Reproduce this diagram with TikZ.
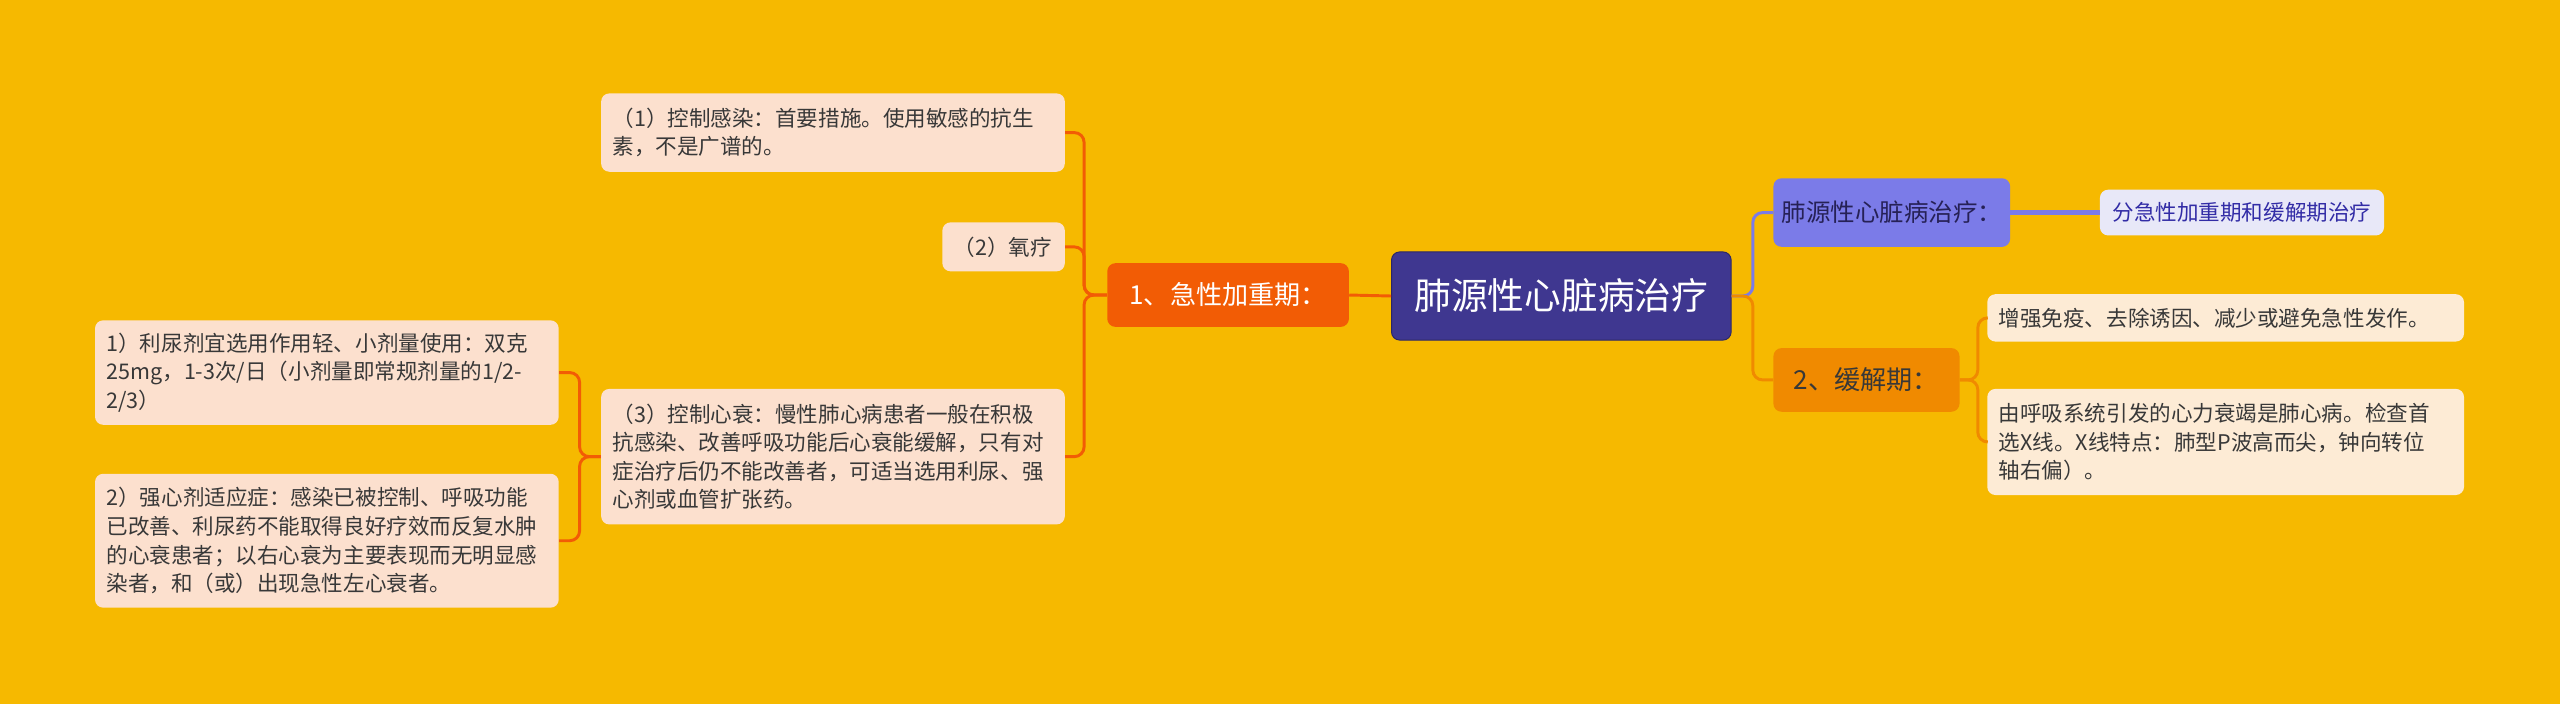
\documentclass[tikz,border=0pt]{standalone}
\usepackage{fontspec}
\usepackage{xcolor}
\newfontfamily\cjk{Noto Sans CJK SC}
\definecolor{bgc}{HTML}{F6B900}
\definecolor{rootc}{HTML}{3F3790}
\definecolor{redc}{HTML}{F25C05}
\definecolor{orgc}{HTML}{F08A00}
\definecolor{purc}{HTML}{7B7BE8}
\definecolor{peachc}{HTML}{FCE0CE}
\definecolor{creamc}{HTML}{FDEBD5}
\definecolor{lavc}{HTML}{E8E8F8}
\definecolor{txtc}{HTML}{383838}

\begin{document}
\begin{tikzpicture}[x=1pt, y=-1pt,
    box/.style={rounded corners=5pt, inner xsep=7pt, inner ysep=0pt, anchor=north west,
      align=left, text=txtc, font=\cjk\fontsize{13.2}{17.5}\selectfont},
    leaf/.style={box, fill=peachc},
    rleaf/.style={box, fill=creamc},
    mid/.style={rounded corners=5pt, anchor=north west, inner sep=0pt,
      font=\cjk\fontsize{16}{20}\selectfont},
    lkred/.style={draw=redc, line width=1.8pt, rounded corners=6pt},
    lkorg/.style={draw=orgc, line width=1.8pt, rounded corners=6pt},
    lkpur/.style={draw=purc, line width=1.8pt, rounded corners=6pt}]
      \fill[bgc] (0,0) rectangle (1568,431);
      \useasboundingbox (0,0) rectangle (1568,431);
      \node[mid, fill=rootc, draw=rootc!70!black, line width=0.6pt, text=white,
        minimum width=208pt, minimum height=54pt, font=\cjk\fontsize{22.5}{26}\selectfont]
        (root) at (852,154) {肺源性心脏病治疗};
      \node[mid, fill=redc, text=white, minimum width=148pt, minimum height=39pt]
        (acute) at (678,161) {1、急性加重期：};
      \node[leaf, text width=270pt, minimum height=48pt] (infect) at (368,57)
        {（1）控制感染：首要措施。使用敏感的抗生\\素，不是广谱的。};
      \node[leaf, text width=61pt, minimum height=30pt] (oxygen) at (577,136)
        {（2）氧疗};
      \node[leaf, text width=270pt, minimum height=83pt] (heart) at (368,238)
        {（3）控制心衰：慢性肺心病患者一般在积极\\抗感染、改善呼吸功能后心衰能缓解，只有对\\症治疗后仍不能改善者，可适当选用利尿、强\\心剂或血管扩张药。};
      \node[leaf, text width=270pt, minimum height=64pt] (diur) at (58,196)
        {1）利尿剂宜选用作用轻、小剂量使用：双克\\25mg，1-3次/日（小剂量即常规剂量的1/2-\\2/3）};
      \node[leaf, text width=270pt, minimum height=82pt] (cardio) at (58,290)
        {2）强心剂适应症：感染已被控制、呼吸功能\\已改善、利尿药不能取得良好疗效而反复水肿\\的心衰患者；以右心衰为主要表现而无明显感\\染者，和（或）出现急性左心衰者。};
      \node[mid, fill=purc, text=rootc!60!black, minimum width=145pt, minimum height=42pt,
        font=\cjk\fontsize{15}{19}\selectfont] (treat) at (1086,109) {肺源性心脏病治疗：};
      \node[box, fill=lavc, text=rootc!80!blue, text width=160pt, minimum height=28pt,
        align=center] (phase) at (1286,116) {分急性加重期和缓解期治疗};
      \node[mid, fill=orgc, text=txtc, minimum width=114pt, minimum height=39pt]
        (remit) at (1086,213) {2、缓解期：};
      \node[rleaf, text width=278pt, minimum height=29pt] (immun) at (1217,180)
        {增强免疫、去除诱因、减少或避免急性发作。};
      \node[rleaf, text width=278pt, minimum height=65pt] (xray) at (1217,238)
        {由呼吸系统引发的心力衰竭是肺心病。检查首\\选X线。X线特点：肺型P波高而尖，钟向转位\\轴右偏）。};
      \draw[lkred] (root.west) -- (acute.east);
      \draw[lkred] (acute.west) -- ++(-14,0) |- (infect.east);
      \draw[lkred] (acute.west) -- ++(-14,0) |- (oxygen.east);
      \draw[lkred] (acute.west) -- ++(-14,0) |- (heart.east);
      \draw[lkred] (heart.west) -- ++(-13,0) |- (diur.east);
      \draw[lkred] (heart.west) -- ++(-13,0) |- (cardio.east);
      \draw[lkpur] (root.east) -- ++(13,0) |- (treat.west);
      \draw[lkorg] (root.east) -- ++(13,0) |- (remit.west);
      \draw[lkpur, line width=2.6pt] (treat.east) -- (phase.west);
      \draw[lkorg] (remit.east) -- ++(11,0) |- (immun.west);
      \draw[lkorg] (remit.east) -- ++(11,0) |- (xray.west);
    \end{tikzpicture}
\end{document}
